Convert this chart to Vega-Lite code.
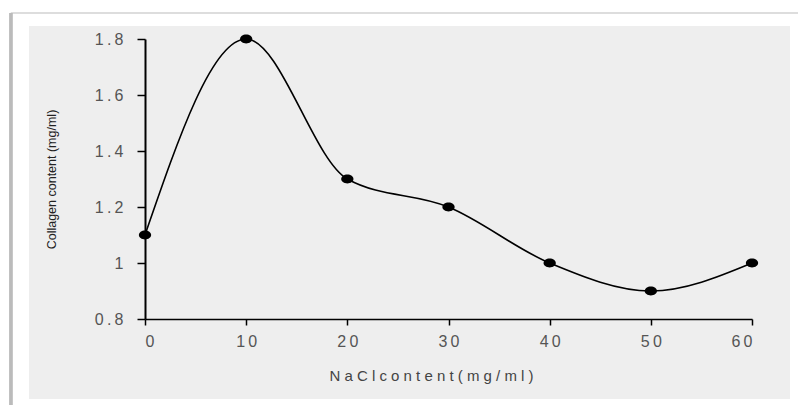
{
  "$schema": "https://vega.github.io/schema/vega-lite/v6.json",
  "width": 607,
  "height": 280,
  "autosize": {"type": "none"},
  "padding": {"left": 145, "top": 39, "right": 46, "bottom": 86},
  "background": "white",
  "config": {
    "view": {"stroke": null},
    "font": "Liberation Sans"
  },
  "data": {
    "values": [
      {"nacl": 0, "collagen": 1.1},
      {"nacl": 10, "collagen": 1.8},
      {"nacl": 20, "collagen": 1.3},
      {"nacl": 30, "collagen": 1.2},
      {"nacl": 40, "collagen": 1.0},
      {"nacl": 50, "collagen": 0.9},
      {"nacl": 60, "collagen": 1.0}
    ]
  },
  "layer": [
    {
      "mark": {"type": "rect", "fill": "#eeeeee", "clip": false},
      "encoding": {
        "x": {"datum": -11.47, "type": "quantitative"},
        "x2": {"datum": 63.76},
        "y": {"datum": 1.8464, "type": "quantitative"},
        "y2": {"datum": 0.5143}
      }
    },
    {
      "mark": {"type": "rule", "stroke": "#dddddd", "strokeWidth": 2, "clip": false},
      "encoding": {
        "x": {"datum": -13.25, "type": "quantitative"},
        "x2": {"datum": 64.6},
        "y": {"datum": 1.8929, "type": "quantitative"}
      }
    },
    {
      "mark": {"type": "rule", "stroke": "#bbbbbb", "strokeWidth": 2.5, "clip": false},
      "encoding": {
        "x": {"datum": -13.25, "type": "quantitative"},
        "y": {"datum": 1.8929, "type": "quantitative"},
        "y2": {"datum": 0.49}
      }
    },
    {
      "mark": {"type": "line", "color": "black", "strokeWidth": 1.6, "interpolate": "monotone"},
      "encoding": {
        "x": {
          "field": "nacl",
          "type": "quantitative",
          "scale": {"domain": [0, 60], "nice": false, "zero": false},
          "axis": {
            "values": [0, 10, 20, 30, 40, 50, 60],
            "title": "N a C l  c o n t e n t  ( m g / m l )",
            "grid": false,
            "zindex": 2,
            "domainColor": "black",
            "domainWidth": 1.5,
            "tickColor": "black",
            "tickWidth": 1.5,
            "tickSize": 6,
            "labelPadding": 8,
            "labelFontSize": 16,
            "labelColor": "#555555",
            "labelExpr": "join(split(datum.label, ''), '\u2009')",
            "titleFontSize": 15,
            "titleFontWeight": "normal",
            "titleColor": "#444444",
            "titlePadding": 19,
            "titleX": 286
          }
        },
        "y": {
          "field": "collagen",
          "type": "quantitative",
          "scale": {"domain": [0.8, 1.8], "nice": false, "zero": false},
          "axis": {
            "values": [0.8, 1, 1.2, 1.4, 1.6, 1.8],
            "title": "Collagen content (mg/ml)",
            "grid": false,
            "zindex": 2,
            "domainColor": "black",
            "domainWidth": 2,
            "tickColor": "black",
            "tickWidth": 1.5,
            "tickSize": 8,
            "labelPadding": 14,
            "labelFontSize": 16,
            "labelColor": "#555555",
            "labelExpr": "join(split(datum.value == 1 ? '1' : format(datum.value, '.1f'), ''), '\u2009')",
            "titleFontSize": 12.5,
            "titleFontWeight": "normal",
            "titleColor": "#222222",
            "titlePadding": 36
          }
        }
      }
    },
    {
      "mark": {
        "type": "point",
        "filled": true,
        "color": "black",
        "opacity": 1,
        "size": 150,
        "shape": "M -1 0 A 1 0.72 0 1 0 1 0 A 1 0.72 0 1 0 -1 0 Z"
      },
      "encoding": {
        "x": {"field": "nacl", "type": "quantitative"},
        "y": {"field": "collagen", "type": "quantitative"}
      }
    }
  ]
}
